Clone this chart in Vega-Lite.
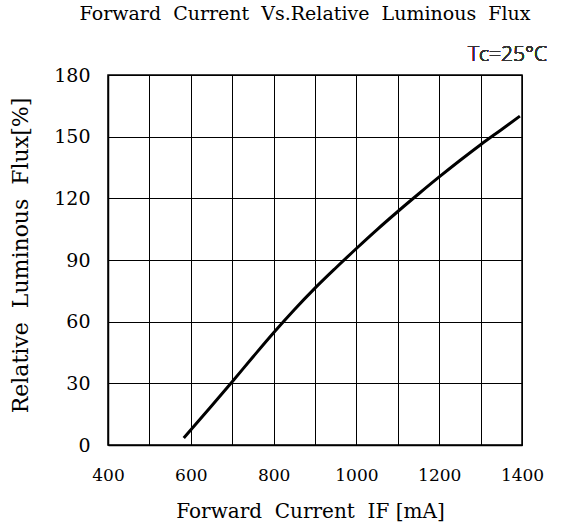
{
  "$schema": "https://vega.github.io/schema/vega-lite/v6.json",
  "width": 414,
  "height": 370,
  "autosize": {"type": "none"},
  "padding": {"left": 108, "top": 75, "right": 41, "bottom": 81},
  "background": "white",
  "title": {
    "text": "Forward \u00a0Current \u00a0Vs.Relative \u00a0Luminous \u00a0Flux",
    "font": "DejaVu Serif",
    "fontSize": 19,
    "fontWeight": "normal",
    "color": "black",
    "anchor": "middle",
    "frame": "group",
    "dx": -10,
    "offset": 5,
    "baseline": "alphabetic"
  },
  "config": {
    "view": {"stroke": "black", "strokeWidth": 1.5},
    "axis": {
      "grid": true,
      "gridColor": "black",
      "gridOpacity": 1,
      "gridWidth": 1,
      "ticks": false,
      "labelFlush": false,
      "domainColor": "black",
      "domainWidth": 1.5,
      "labelColor": "black",
      "titleColor": "black",
      "labelFont": "DejaVu Serif",
      "titleFont": "DejaVu Serif",
      "titleFontWeight": "normal"
    }
  },
  "data": {
    "values": [
      {"current": 583, "flux": 3.4},
      {"current": 650, "flux": 19},
      {"current": 700, "flux": 30.8},
      {"current": 750, "flux": 42.8},
      {"current": 800, "flux": 54.6},
      {"current": 850, "flux": 65.8},
      {"current": 900, "flux": 76.3},
      {"current": 950, "flux": 86.1},
      {"current": 1000, "flux": 95.6},
      {"current": 1050, "flux": 104.8},
      {"current": 1100, "flux": 113.6},
      {"current": 1150, "flux": 122.1},
      {"current": 1200, "flux": 130.4},
      {"current": 1250, "flux": 138.4},
      {"current": 1300, "flux": 146.1},
      {"current": 1350, "flux": 153.4},
      {"current": 1395, "flux": 160}
    ]
  },
  "layer": [
    {
      "mark": {"type": "line", "color": "black", "strokeWidth": 3, "interpolate": "monotone"},
      "encoding": {
        "x": {
          "field": "current",
          "type": "quantitative",
          "scale": {"domain": [400, 1400], "nice": false},
          "axis": {
            "values": [400, 500, 600, 700, 800, 900, 1000, 1100, 1200, 1300, 1400],
            "labelExpr": "datum.value % 200 == 0 ? datum.label : ''",
            "format": "d",
            "labelFontSize": 17,
            "labelPadding": 22,
            "title": "Forward \u00a0Current \u00a0IF [mA]",
            "titleFontSize": 20,
            "titleX": 202,
            "titleY": 72,
            "titleBaseline": "alphabetic",
            "titleAlign": "center"
          }
        },
        "y": {
          "field": "flux",
          "type": "quantitative",
          "scale": {"domain": [0, 180], "nice": false},
          "axis": {
            "values": [0, 15, 30, 45, 60, 75, 90, 105, 120, 135, 150, 165, 180],
            "labelExpr": "datum.value % 30 == 0 ? datum.label : ''",
            "labelFontSize": 19,
            "labelPadding": 18,
            "title": "Relative \u00a0Luminous \u00a0Flux[%]",
            "titleFontSize": 22,
            "titleX": -81,
            "titleY": 180,
            "titleBaseline": "alphabetic",
            "titleAlign": "center"
          }
        }
      }
    },
    {
      "mark": {
        "type": "text",
        "align": "right",
        "baseline": "alphabetic",
        "dx": 25,
        "dy": -14,
        "font": "Open Sans",
        "fontSize": 21,
        "fontWeight": 300,
        "color": "#333"
      },
      "encoding": {
        "x": {"datum": 1400, "type": "quantitative"},
        "y": {"datum": 180, "type": "quantitative"},
        "text": {"value": "Tc=25°C"}
      }
    }
  ]
}
